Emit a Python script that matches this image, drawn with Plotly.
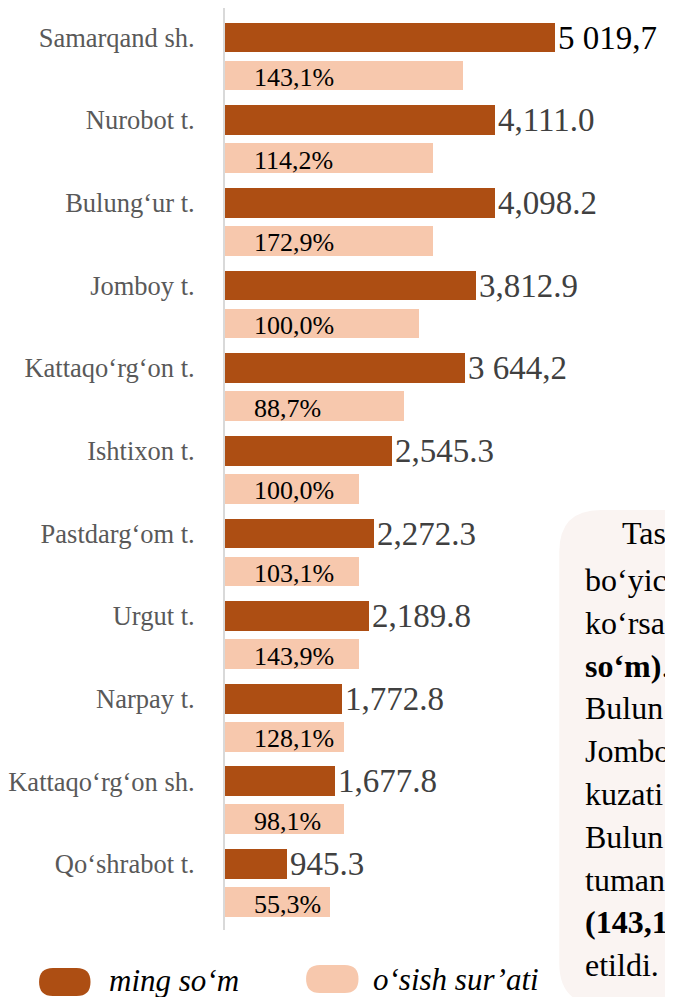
import plotly.graph_objects as go

# ---------------- data ----------------
categories = ["Samarqand sh.", "Nurobot t.", "Bulung‘ur t.", "Jomboy t.",
              "Kattaqo‘rg‘on t.", "Ishtixon t.", "Pastdarg‘om t.", "Urgut t.",
              "Narpay t.", "Kattaqo‘rg‘on sh.", "Qo‘shrabot t."]
value_ming_som = [5019.7, 4111.0, 4098.2, 3812.9, 3644.2, 2545.3, 2272.3,
                  2189.8, 1772.8, 1677.8, 945.3]
value_labels = ["5 019,7", "4,111.0", "4,098.2", "3,812.9", "3 644,2", "2,545.3",
                "2,272.3", "2,189.8", "1,772.8", "1,677.8", "945.3"]
growth_labels = ["143,1%", "114,2%", "172,9%", "100,0%", "88,7%", "100,0%",
                 "103,1%", "143,9%", "128,1%", "98,1%", "55,3%"]
# lengths of the light bars as drawn in the picture (same axis units)
growth_bar_len = [3620, 3170, 3170, 2950, 2720, 2045, 2045, 2045, 1805, 1805, 1595]

box_lines = ["Tash", "bo‘yic", "ko‘rsa", "<b>so‘m)</b>.", "Bulun", "Jombo",
             "kuzati", "Bulun", "tuman", "<b>(143,1</b>", "etildi."]
legend_names = ["ming so‘m", "o‘sish sur’ati"]

# ---------------- style ----------------
DARK = "#ad4e13"
LIGHT = "#f7c8ad"
BOX = "#faf4f2"
SERIF = "Liberation Serif"
OX, OY = 8, 8                 # page body margin
W, H = 673 - OX, 997 - OY
ML, MR, MT, MB = 220 - OX, 0, 0, 67
PW, PH = W - ML - MR, H - MT - MB
PXU = 0.0665                  # pixels per unit on x
PXY = 82.65                   # pixels per category step
OFF = 0.46                    # vertical offset of growth bar under main bar
BW = 0.36

pos = list(range(len(categories)))
pos_light = [p + OFF for p in pos]


def px(x):   # reference page pixel -> paper
    return (x - OX - ML) / PW


def py(y):
    return (H - MB - (y - OY)) / PH


fig = go.Figure()
fig.add_trace(go.Bar(
    y=pos, x=value_ming_som, orientation="h", width=BW,
    marker=dict(color=DARK, line=dict(width=0)),
    text=value_labels, textposition="outside", constraintext="none",
    cliponaxis=False,
    textfont=dict(family=SERIF, size=33,
                  color=["#000000"] + ["#404040"] * (len(categories) - 1)),
    name=legend_names[0], showlegend=False, hoverinfo="skip",
))
fig.add_trace(go.Bar(
    y=pos_light, x=growth_bar_len, orientation="h", width=BW,
    marker=dict(color=LIGHT, line=dict(width=0)),
    name=legend_names[1], showlegend=False, hoverinfo="skip",
))

annotations = []
for yl, lab in zip(pos_light, growth_labels):
    annotations.append(dict(x=410, y=yl, xref="x", yref="y", text=lab,
                            showarrow=False, xanchor="left", yanchor="middle",
                            yshift=-2,
                            font=dict(family=SERIF, size=26, color="#000000")))

shapes = []


def rounded_rect(x0, y0, x1, y1, r, color):
    pts = (f"M {px(x0 + r)},{py(y0)} L {px(x1 - r)},{py(y0)} "
           f"Q {px(x1)},{py(y0)} {px(x1)},{py(y0 + r)} "
           f"L {px(x1)},{py(y1 - r)} Q {px(x1)},{py(y1)} {px(x1 - r)},{py(y1)} "
           f"L {px(x0 + r)},{py(y1)} Q {px(x0)},{py(y1)} {px(x0)},{py(y1 - r)} "
           f"L {px(x0)},{py(y0 + r)} Q {px(x0)},{py(y0)} {px(x0 + r)},{py(y0)} Z")
    return dict(type="path", path=pts, xref="paper", yref="paper",
                fillcolor=color, line=dict(width=0), layer="below")


# text box on the right
shapes.append(rounded_rect(558, 510, 760, 1005, 42, BOX))
for k, line in enumerate(box_lines):
    x0 = 619 if k == 0 else 582
    base = 545 if k == 0 else 592 + 42.8 * (k - 1)
    annotations.append(dict(x=px(x0), y=py(base - 12), xref="paper",
                            yref="paper", text=line, showarrow=False,
                            xanchor="left", yanchor="middle",
                            font=dict(family=SERIF, size=32, color="#000000")))

# legend
shapes.append(rounded_rect(32, 968, 84, 996, 14, DARK))
shapes.append(rounded_rect(302, 965, 355, 993, 14, LIGHT))
annotations.append(dict(x=px(101), y=py(981), xref="paper", yref="paper",
                        text=f"<i>{legend_names[0]}</i>", showarrow=False,
                        xanchor="left", yanchor="middle",
                        font=dict(family=SERIF, size=31, color="#000000")))
annotations.append(dict(x=px(368), y=py(979), xref="paper", yref="paper",
                        text=f"<i>{legend_names[1]}</i>", showarrow=False,
                        xanchor="left", yanchor="middle",
                        font=dict(family=SERIF, size=31, color="#000000")))

y_top = -(37.5 - OY) / PXY
y_bot = y_top + PH / PXY

fig.update_layout(
    width=W, height=H,
    margin=dict(l=ML, r=MR, t=MT, b=MB, pad=0),
    paper_bgcolor="white", plot_bgcolor="white",
    font=dict(family=SERIF),
    barmode="overlay", bargap=0,
    showlegend=False,
    shapes=shapes, annotations=annotations,
    xaxis=dict(visible=False, range=[0, PW / PXU], fixedrange=True),
    yaxis=dict(range=[y_bot, y_top], tickvals=pos, ticktext=categories,
               tickfont=dict(family=SERIF, size=26.5, color="#595959"),
               showline=True, linecolor="#d9d9d9", linewidth=2,
               showgrid=False, zeroline=False, ticks="",
               ticklabelstandoff=23, fixedrange=True),
)

fig.write_html("out.html")
